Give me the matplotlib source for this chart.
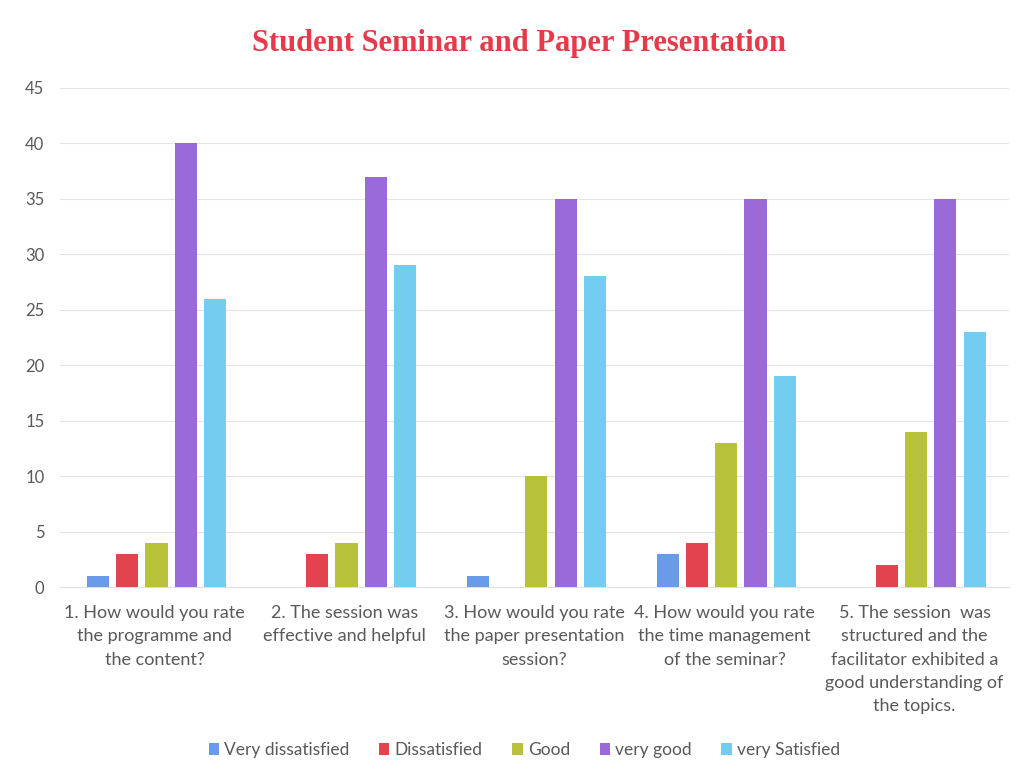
import numpy as np
import matplotlib.pyplot as plt

# Survey responses per question
questions = [
    "1. How would you rate\nthe programme and\nthe content?",
    "2. The session was\neffective and helpful",
    "3. How would you rate\nthe paper presentation\nsession?",
    "4. How would you rate\nthe time management\nof the seminar?",
    "5. The session  was\nstructured and the\nfacilitator exhibited a\ngood understanding of\nthe topics.",
]
series_names = ["Very dissatisfied", "Dissatisfied", "Good", "very good", "very Satisfied"]
very_dissatisfied = [1, 0, 1, 3, 0]
dissatisfied = [3, 3, 0, 4, 2]
good = [4, 4, 10, 13, 14]
very_good = [40, 37, 35, 35, 35]
very_satisfied = [26, 29, 28, 19, 23]

series = [very_dissatisfied, dissatisfied, good, very_good, very_satisfied]
colors = ["#6a9be8", "#e2434f", "#b7c23a", "#9a6ad8", "#72cdf0"]

plt.rcParams['font.family'] = ['Lato', 'DejaVu Sans']
text_color = "#595959"

fig = plt.figure(figsize=(10.28, 7.83), dpi=100)
ax = fig.add_axes([0.058, 0.250, 0.924, 0.638])

x = np.arange(len(questions))
pitch = 0.153
width = 0.116
for i, (name, vals, c) in enumerate(zip(series_names, series, colors)):
    ax.bar(x + (i - 2) * pitch + 0.01, vals, width=width, color=c, label=name, zorder=3)

ax.set_xlim(-0.5, len(questions) - 0.5)
ax.set_ylim(0, 45)
ax.set_yticks(range(0, 46, 5))
ax.yaxis.grid(True, color="#e4e4e4", linewidth=0.8, zorder=0)
for s in ["top", "right", "left"]:
    ax.spines[s].set_visible(False)
ax.spines["bottom"].set_color("#e0e0e0")
ax.tick_params(axis="both", length=0, colors=text_color)
ax.tick_params(axis="y", pad=11, labelsize=12)
ax.tick_params(axis="x", pad=13, labelsize=13)
ax.set_xticks(x)
ax.set_xticklabels(questions, linespacing=1.55)

fig.text(0.505, 0.945, "Student Seminar and Paper Presentation",
         ha="center", va="center", fontsize=22, fontweight="bold",
         color="#e8394a", family=["Liberation Serif", "DejaVu Serif"])

leg = fig.legend(loc="center", bbox_to_anchor=(0.51, 0.042), ncol=5, frameon=False,
                 fontsize=12.5, handlelength=0.6, handleheight=0.6, handletextpad=0.3,
                 columnspacing=1.7, labelcolor=text_color)

fig.savefig("out.png", dpi=100, facecolor="white")
